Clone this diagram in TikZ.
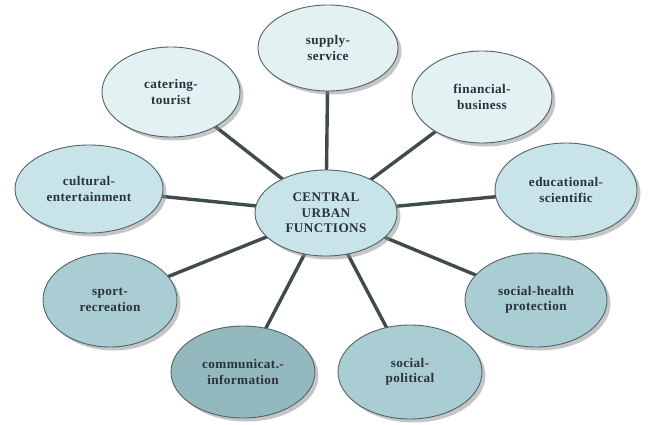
\documentclass[tikz,border=0pt]{standalone}
\usepackage{fontspec}
\setmainfont{Liberation Serif}[LetterSpace=3]
\usetikzlibrary{shapes.geometric,shadows}
\definecolor{tintA}{HTML}{E3F1F3}
\definecolor{tintB}{HTML}{C9E4E9}
\definecolor{tintC}{HTML}{A9CDD3}
\definecolor{tintD}{HTML}{93B9BE}
\definecolor{rim}{HTML}{4E6468}
\definecolor{spoke}{HTML}{3F4B4D}
\definecolor{ink}{HTML}{28333C}
\pgfdeclarelayer{back}
\pgfsetlayers{back,main}
\tikzset{
  func/.style={ellipse, draw=rim, line width=0.9pt, inner sep=0pt,
    align=center, text=ink,
    font=\fontsize{13.2}{15.5}\selectfont\bfseries,
    drop shadow={shadow xshift=3.5pt, shadow yshift=-3.5pt,
      fill=black!45, opacity=0.5}},
  link/.style={draw=spoke, line width=3.4pt}
}
\begin{document}
\begin{tikzpicture}[x=1pt, y=-1pt]
  \useasboundingbox (0,0) rectangle (648,425);
  % hub
  \node[func, fill=tintB, minimum width=142pt, minimum height=86pt]
    (hub) at (326,213) {CENTRAL\\URBAN\\FUNCTIONS};
  % surrounding functions
  \node[func, fill=tintA, minimum width=140pt, minimum height=86pt]
    (supply) at (328,48) {supply-\\service};
  \node[func, fill=tintA, minimum width=138pt, minimum height=90pt]
    (catering) at (171,92) {catering-\\tourist};
  \node[func, fill=tintA, minimum width=140pt, minimum height=92pt]
    (financial) at (482,97) {financial-\\business};
  \node[func, fill=tintB, minimum width=148pt, minimum height=88pt]
    (cultural) at (89,189) {cultural-\\entertainment};
  \node[func, fill=tintB, minimum width=142pt, minimum height=94pt]
    (educational) at (566,190) {educational-\\scientific};
  \node[func, fill=tintC, minimum width=134pt, minimum height=94pt]
    (sport) at (110,300) {sport-\\recreation};
  \node[func, fill=tintC, minimum width=142pt, minimum height=94pt]
    (health) at (536,300) {social-health\\protection};
  \node[func, fill=tintD, minimum width=144pt, minimum height=92pt]
    (communic) at (243,372) {communicat.-\\information};
  \node[func, fill=tintC, minimum width=144pt, minimum height=94pt]
    (political) at (410,372) {social-\\political};
  % spokes behind the ellipses
  \begin{pgfonlayer}{back}
    \foreach \n in {supply,catering,financial,cultural,educational,
                    sport,health,communic,political}
      \draw[link] (hub.center) -- (\n.center);
  \end{pgfonlayer}
\end{tikzpicture}
\end{document}
